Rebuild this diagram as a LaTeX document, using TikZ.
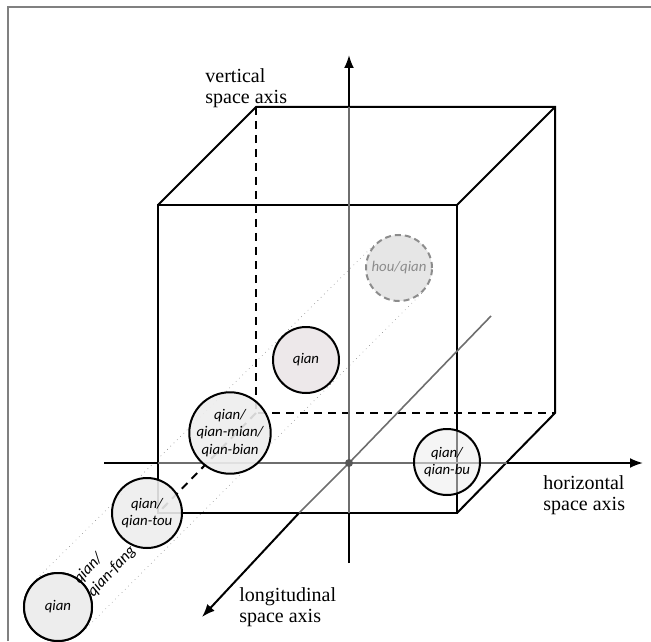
\documentclass[tikz,border=0pt]{standalone}
\usepackage{fontspec}
\setmainfont{Liberation Serif}
\newfontfamily\calfont{Carlito}
\usetikzlibrary{arrows.meta}
\definecolor{cfill}{HTML}{EDEDED}
\definecolor{pfill}{HTML}{EDE8EA}
\definecolor{hfill}{HTML}{E6E6E6}
\definecolor{axgray}{HTML}{6E6E6E}
\definecolor{dashgray}{HTML}{8C8C8C}
\tikzset{
  edge/.style={line width=1pt, black},
  hidden/.style={line width=1pt, black, dash pattern=on 4pt off 3pt},
  axblack/.style={line width=1pt, black},
  axgrey/.style={line width=0.8pt, axgray},
  tube/.style={line width=0.3pt, gray, dotted},
  tip/.style={-{Latex[length=6.5pt,width=5pt]}},
  circ/.style={circle, draw=black, line width=1pt, fill=cfill, inner sep=0pt, align=center,
    font=\calfont\itshape\fontsize{7.4}{8.6}\selectfont},
  lab/.style={align=left, inner sep=0pt, anchor=north west, font=\fontsize{10}{10.8}\selectfont},
}
\begin{document}
\begin{tikzpicture}[x=0.5pt,y=-0.5pt]
\useasboundingbox (0,0) rectangle (651,641);
% frame
\draw[line width=0.8pt, gray] (8,641) -- (8,7) -- (651,7);
% cube corners
\coordinate (F1) at (158,205); \coordinate (F2) at (457,205);
\coordinate (F3) at (457,513); \coordinate (F4) at (158,513);
\coordinate (B1) at (256,107); \coordinate (B2) at (555,107);
\coordinate (B3) at (555,413); \coordinate (B4) at (256,413);
% axes points
\coordinate (O) at (349,463);
\coordinate (VT) at (349,55); \coordinate (V1) at (349,107);
\coordinate (V2) at (349,513); \coordinate (VB) at (349,563);
\coordinate (HL) at (104,463); \coordinate (H1) at (158,463);
\coordinate (H2) at (507,463); \coordinate (HR) at (643,463);
\coordinate (L1) at (491,316); \coordinate (L2) at (299,513);
\coordinate (LT) at (202,617);
% end circles of the tube
\node[circ, minimum size=34pt] (bq) at (58,607) {qian};
\node[circ, minimum size=33pt, draw=dashgray, fill=hfill, dash pattern=on 3pt off 2pt, text=dashgray] (hq) at (399,268) {hou/qian};
% tube
\draw[tube] (bq.135) -- (hq.135);
\draw[tube] (bq.-45) -- (hq.-45);
% cube
\draw[edge] (F1) -- (F2) -- (F3) -- (F4) -- cycle;
\draw[edge] (F1) -- (B1) -- (B2) -- (B3) -- (F3);
\draw[edge] (F2) -- (B2);
\draw[hidden] (B1) -- (B4) -- (B3);
\draw[hidden] (B4) -- (F4);
% axes
\draw[axgrey] (V1) -- (V2);
\draw[axgrey] (H1) -- (H2);
\draw[axgrey] (L1) -- (O) -- (L2);
\draw[axblack] (VB) -- (V2);
\draw[axblack, tip] (V1) -- (VT);
\draw[axblack] (HL) -- (H1);
\draw[axblack, tip] (H2) -- (HR);
\draw[axblack, tip] (L2) -- (LT);
\fill[axgray!80!black] (O) circle (4);
% circles on top
\node[circ, minimum size=33pt, fill=pfill] (mq) at (306,360) {qian};
\node[circ, minimum size=33pt, fill opacity=0.9, text opacity=1] (qm) at (230,433) {qian/\\qian-mian/\\qian-bian};
\node[circ, minimum size=35pt, fill opacity=0.9, text opacity=1] (qt) at (147,513) {qian/\\qian-tou};
\node[circ, minimum size=33pt, fill opacity=0.55, text opacity=1] (qb) at (447,462) {qian/\\qian-bu};
\node[circ, minimum size=34pt] at (bq) {qian};
% rotated label
\node[rotate=47, align=left, inner sep=0pt, font=\calfont\itshape\fontsize{8}{9.4}\selectfont] (qf) at (105,565) {qian/\\qian-fang};
% axis labels
\node[lab] (vl) at (205,68) {vertical\\space axis};
\node[lab] (hl) at (543,475) {horizontal\\space axis};
\node[lab] (ll) at (239,587) {longitudinal\\space axis};
\end{tikzpicture}
\end{document}
